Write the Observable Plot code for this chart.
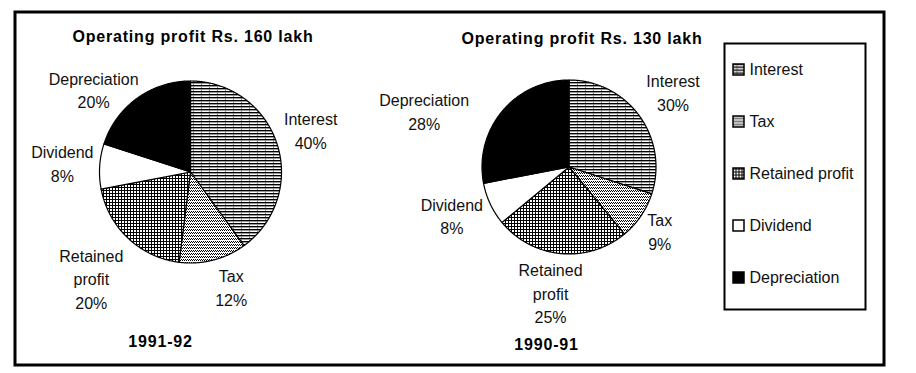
<!DOCTYPE html>
<html><head><meta charset="utf-8">
<script src="https://cdn.jsdelivr.net/npm/d3@7"></script>
<script src="https://cdn.jsdelivr.net/npm/@observablehq/plot@0.6"></script>
<style>
html,body{margin:0;padding:0;background:#fff;}
#chart svg g[font-weight="bold"] text{letter-spacing:0.8px;}
</style></head><body>
<svg width="0" height="0" style="position:absolute">
  <defs>
    <pattern id="pat-0" patternUnits="userSpaceOnUse" x="0.5" y="0.5" width="8" height="3">
      <rect width="8" height="3" fill="#fff"/>
      <rect x="0" y="0" width="8" height="1" fill="#000"/>
      <rect x="0" y="1" width="8" height="0.4" fill="#000"/>
      <rect x="0" y="1" width="1" height="2" fill="#888"/>
    </pattern>
    <pattern id="pat-1" patternUnits="userSpaceOnUse" x="0.5" y="0.5" width="2" height="3">
      <rect width="2" height="3" fill="#fff"/>
      <rect x="0" y="0" width="1" height="1" fill="#000"/>
      <rect x="1" y="1" width="1" height="1" fill="#000"/>
    </pattern>
    <pattern id="pat-2" patternUnits="userSpaceOnUse" x="0.5" y="0.5" width="3" height="3">
      <rect width="3" height="3" fill="#fff"/>
      <rect x="0" y="0" width="3" height="1" fill="#000"/>
      <rect x="0" y="0" width="1" height="3" fill="#000"/>
    </pattern>
  </defs>
</svg>
<div id="chart"></div>
<script>
// ---- data ----
const categories = ["Interest", "Tax", "Retained profit", "Dividend", "Depreciation"];
const sliceLabels = ["Interest", "Tax", "Retained\nprofit", "Dividend", "Depreciation"];
const share1991_92 = [40, 12, 20, 8, 20];
const share1990_91 = [30, 9, 25, 8, 28];
const years = ["1991-92", "1990-91"];
const operatingProfit = [160, 130];
const categoryFills = ["url(#pat-0)", "url(#pat-1)", "url(#pat-2)", "#fff", "#000"];

// ---- layout (pixel space) ----
const W = 916, H = 373;
const pieLayout = [
  {cx: 190, cy: 171.5, r: 91, titleX: 192.5, titleY: 36, yearX: 160, yearY: 341,
   nudge: [[-1, -3], [9, -9], [-12, 13], [-1, -1.5], [-22, 20]]},
  {cx: 568.5, cy: 166.5, r: 87, titleX: 581.5, titleY: 38.5, yearX: 546, yearY: 344,
   nudge: [[5.5, -4], [-10, -5], [-7, 4], [-7, -4], [-51, 21]]}
];
const seriesValues = [share1991_92, share1990_91];

const pieGen = d3.pie().sort(null).startAngle(0).endAngle(2 * Math.PI);
const vertices = [];
const labelRows = [];
const headerRows = [];
seriesValues.forEach((vals, p) => {
  const L = pieLayout[p];
  const arcs = pieGen(vals);
  arcs.forEach((a, i) => {
    const key = p + "-" + i;
    const fill = categoryFills[i];
    vertices.push({key, fill, x: L.cx, y: L.cy});
    const n = Math.max(2, Math.ceil((a.endAngle - a.startAngle) / (Math.PI / 360)));
    for (let k = 0; k <= n; k++) {
      const t = a.startAngle + (a.endAngle - a.startAngle) * k / n;
      vertices.push({key, fill, x: L.cx + L.r * Math.sin(t), y: L.cy - L.r * Math.cos(t)});
    }
    vertices.push({key, fill, x: L.cx, y: L.cy});
    const mid = (a.startAngle + a.endAngle) / 2;
    const d = L.r * 1.4;
    labelRows.push({
      x: L.cx + d * Math.sin(mid) + L.nudge[i][0],
      y: L.cy - d * Math.cos(mid) + L.nudge[i][1],
      text: sliceLabels[i] + "\n" + vals[i] + "%"
    });
  });
  headerRows.push({x: L.titleX, y: L.titleY, text: `Operating profit Rs. ${operatingProfit[p]} lakh`});
  headerRows.push({x: L.yearX, y: L.yearY, text: years[p]});
});

const legendRows = categories.map((c, i) => ({
  name: c, fill: categoryFills[i], y: 69.5 + 52 * i
}));

const chart = Plot.plot({
  width: W, height: H, margin: 0,
  x: {domain: [0, W], range: [0, W], axis: null},
  y: {domain: [0, H], range: [0, H], axis: null},
  color: {type: "identity"},
  style: {fontFamily: "'Liberation Sans', Arial, sans-serif", fontSize: "16px", background: "#fff", color: "#000"},
  marks: [
    Plot.frame({stroke: "#000", strokeWidth: 3, insetLeft: 14.5, insetRight: W - 883.5, insetTop: 11.5, insetBottom: H - 364.5}),
    Plot.line(vertices, {x: "x", y: "y", z: "key", fill: "fill", stroke: "#000", strokeWidth: 1.2, curve: "linear"}),
    Plot.text(labelRows, {x: "x", y: "y", text: "text", fontSize: 16, lineHeight: 1.47, fill: "#111"}),
    Plot.text(headerRows, {x: "x", y: "y", text: "text", fontSize: 16, fontWeight: "bold", fill: "#000"}),
    Plot.frame({stroke: "#000", strokeWidth: 2, insetLeft: 724, insetRight: W - 865, insetTop: 43, insetBottom: H - 309}),
    Plot.rect(legendRows, {x1: () => 733, x2: () => 744, y1: d => d.y - 5.5, y2: d => d.y + 5.5, fill: "fill", stroke: "#000", strokeWidth: 1.5}),
    Plot.text(legendRows, {x: () => 749, y: "y", text: "name", textAnchor: "start", fontSize: 16, fill: "#111"})
  ]
});
document.getElementById("chart").appendChild(chart);
</script>
</body></html>
